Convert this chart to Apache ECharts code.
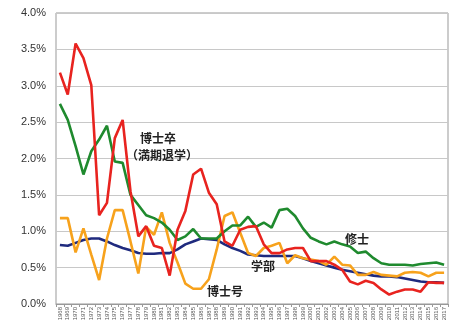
<!DOCTYPE html>
<html><head><meta charset="utf-8">
<script src="https://cdn.jsdelivr.net/npm/echarts@6/dist/echarts.min.js"></script>
<style>html,body{margin:0;padding:0;background:#fff}#c{width:457px;height:333px}</style>
</head><body><div id="c"></div>
<script>
const years = [];
for (let y = 1968; y <= 2017; y++) years.push(String(y));
const yTicks = ['0.0%','0.5%','1.0%','1.5%','2.0%','2.5%','3.0%','3.5%','4.0%'];
const doctorGrad = [3.18,2.88,3.58,3.38,3.01,1.22,1.39,2.28,2.53,1.55,0.93,1.07,0.80,0.77,0.39,1.02,1.28,1.78,1.86,1.53,1.37,0.86,0.80,1.02,1.06,1.07,0.82,0.70,0.70,0.75,0.77,0.77,0.59,0.59,0.59,0.54,0.47,0.31,0.27,0.32,0.29,0.20,0.13,0.17,0.20,0.20,0.17,0.30,0.29,0.29];
const master = [2.75,2.53,2.17,1.78,2.10,2.26,2.45,1.96,1.94,1.50,1.36,1.22,1.18,1.12,1.02,0.88,0.93,1.03,0.90,0.90,0.90,1.00,1.08,1.08,1.20,1.06,1.12,1.05,1.29,1.31,1.21,1.04,0.91,0.86,0.82,0.86,0.82,0.79,0.70,0.72,0.63,0.56,0.54,0.54,0.54,0.53,0.55,0.56,0.57,0.54];
const doctorDegree = [1.18,1.18,0.71,1.04,0.68,0.33,0.90,1.29,1.29,0.86,0.42,1.06,0.95,1.26,0.84,0.57,0.28,0.21,0.21,0.34,0.75,1.21,1.26,0.98,0.70,0.66,0.77,0.80,0.84,0.56,0.67,0.63,0.61,0.59,0.54,0.65,0.54,0.53,0.40,0.40,0.44,0.40,0.39,0.38,0.43,0.44,0.43,0.38,0.43,0.43];
const bachelor = [0.81,0.80,0.84,0.88,0.90,0.90,0.86,0.81,0.77,0.74,0.70,0.69,0.69,0.70,0.70,0.75,0.82,0.86,0.90,0.89,0.88,0.82,0.77,0.73,0.68,0.67,0.66,0.66,0.66,0.66,0.66,0.63,0.59,0.56,0.53,0.50,0.47,0.45,0.43,0.41,0.39,0.38,0.38,0.37,0.35,0.33,0.31,0.30,0.30,0.29];
const names = ['博士卒（満期退学）','修士','博士号','学部'];

const chart = echarts.init(document.getElementById('c'), null, {renderer:'canvas'});
const mk = (name, data, color, z) => ({
  name, type:'line', data, symbol:'none', z,
  lineStyle:{color, width:2.6}, itemStyle:{color}, animation:false
});
const font = 'bold 12px "Noto Sans CJK JP"';
const lbl = (x, y, t) => ({type:'text', x, y, z:100,
  style:{text:t, fill:'#222', font, align:'center', verticalAlign:'top'}});
chart.setOption({
  animation:false,
  grid:{left:56, right:9, top:13, bottom:29, containLabel:false,
        show:true, borderColor:'#999', borderWidth:1},
  xAxis:{type:'category', data:years, boundaryGap:true,
    axisLine:{lineStyle:{color:'#999'}},
    axisTick:{show:true, interval:0, length:3, lineStyle:{color:'#999'}},
    axisLabel:{interval:0, rotate:90, fontSize:6, color:'#555', margin:3, fontFamily:'Liberation Sans'}},
  yAxis:{type:'value', min:0, max:4, interval:0.5,
    axisLine:{show:false}, axisTick:{show:false},
    splitLine:{lineStyle:{color:'#c8c8c8', width:1}},
    axisLabel:{color:'#333', fontSize:11, margin:10, fontFamily:'Liberation Sans',
      formatter:(v)=> yTicks[Math.round(v/0.5)]}},
  series:[
    mk(names[3], bachelor, '#1f2a7e', 2),
    mk(names[2], doctorDegree, '#f7a21c', 3),
    mk(names[1], master, '#1f8a2e', 4),
    mk(names[0], doctorGrad, '#e8231f', 5)
  ],
  graphic:[
    lbl(158, 132, '博士卒'),
    lbl(162, 149, '（満期退学）'),
    lbl(357, 233, '修士'),
    lbl(263, 260, '学部'),
    lbl(225, 285, '博士号')
  ]
});
</script></body></html>
